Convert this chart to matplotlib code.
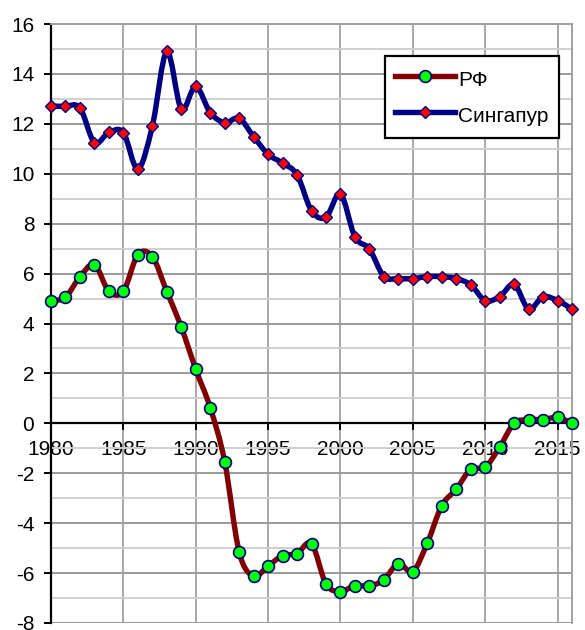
import numpy as np
import matplotlib
matplotlib.use('Agg')
import matplotlib.pyplot as plt
from matplotlib.path import Path
from matplotlib.patches import PathPatch
from matplotlib.lines import Line2D
from matplotlib.ticker import MultipleLocator

plt.rcParams['font.family'] = ['Liberation Sans', 'DejaVu Sans']
plt.rcParams['axes.unicode_minus'] = False

years = list(range(1980, 2017))
rf = [4.9, 5.06, 5.87, 6.36, 5.29, 5.29, 6.76, 6.68, 5.28, 3.86, 2.17, 0.63,
      -1.53, -5.15, -6.12, -5.72, -5.3, -5.22, -4.82, -6.43, -6.74, -6.5,
      -6.52, -6.26, -5.62, -5.94, -4.8, -3.3, -2.64, -1.84, -1.76, -0.95,
      0.0, 0.15, 0.15, 0.24, 0.0]
singapore = [12.7, 12.7, 12.64, 11.25, 11.66, 11.65, 10.19, 11.9, 14.9, 12.6,
             13.5, 12.45, 12.05, 12.22, 11.49, 10.78, 10.43, 9.96, 8.52, 8.26,
             9.19, 7.47, 6.99, 5.88, 5.8, 5.8, 5.88, 5.88, 5.8, 5.55, 4.92,
             5.07, 5.57, 4.58, 5.07, 4.92, 4.58]
series_names = ['РФ', 'Сингапур']
x_ticks = [1980, 1985, 1990, 1995, 2000, 2005, 2010, 2015]


def smooth_path(x, y):
    x = np.asarray(x, float)
    y = np.asarray(y, float)
    n = len(x)
    verts = [(x[0], y[0])]
    codes = [Path.MOVETO]
    for i in range(n - 1):
        p0 = np.array([x[max(i - 1, 0)], y[max(i - 1, 0)]])
        p1 = np.array([x[i], y[i]])
        p2 = np.array([x[i + 1], y[i + 1]])
        p3 = np.array([x[min(i + 2, n - 1)], y[min(i + 2, n - 1)]])
        c1 = p1 + (p2 - p0) / 6.0
        c2 = p2 - (p3 - p1) / 6.0
        verts += [tuple(c1), tuple(c2), tuple(p2)]
        codes += [Path.CURVE4] * 3
    return Path(verts, codes)


fig = plt.figure(figsize=(5.85, 6.3), dpi=100)
ax = fig.add_axes([51 / 585, 1 - 623 / 630, (572 - 51) / 585, (623 - 24) / 630])

ax.set_xlim(1980, 2016)
ax.set_ylim(-8, 16)

ax.yaxis.set_major_locator(MultipleLocator(2))
ax.yaxis.set_minor_locator(MultipleLocator(1))
ax.set_xticks(x_ticks)
ax.grid(which='major', axis='y', color='#9a9a9a', lw=1.4, zorder=0)
ax.grid(which='minor', axis='y', color='#cfcfcf', lw=1.4, zorder=0)
ax.grid(which='major', axis='x', color='#a8a8a8', lw=1.4, zorder=0)
ax.set_axisbelow(True)

for s in ['top', 'right']:
    ax.spines[s].set_color('#a0a0a0')
    ax.spines[s].set_linewidth(1.4)
ax.spines['left'].set_color('black')
ax.spines['left'].set_linewidth(1.6)
ax.spines['bottom'].set_position(('data', 0))
ax.spines['bottom'].set_color('black')
ax.spines['bottom'].set_linewidth(1.6)
ax.axhline(-8, color='#9a9a9a', lw=1.4, zorder=0)

ax.tick_params(axis='both', which='major', direction='out', length=5, width=1.4,
               labelsize=15, color='black')
ax.tick_params(axis='y', which='minor', length=0)
ax.tick_params(axis='y', pad=7)
ax.tick_params(axis='x', pad=7)

rf_color = '#800000'
sg_color = '#000080'

ax.add_patch(PathPatch(smooth_path(years, rf), fill=False, edgecolor=rf_color,
                       lw=3.9, capstyle='round', joinstyle='round', zorder=3))
ax.plot(years, rf, linestyle='none', marker='o', markersize=8.5,
        markerfacecolor='#00ff00', markeredgecolor=sg_color, markeredgewidth=1.2,
        zorder=4, clip_on=False)
ax.add_patch(PathPatch(smooth_path(years, singapore), fill=False, edgecolor=sg_color,
                       lw=3.9, capstyle='round', joinstyle='round', zorder=3))
ax.plot(years, singapore, linestyle='none', marker='D', markersize=6.6,
        markerfacecolor='#ff0000', markeredgecolor=sg_color, markeredgewidth=1.0,
        zorder=4, clip_on=False)

handles = [
    Line2D([], [], color=rf_color, lw=3.9, marker='o', markersize=8.5,
           markerfacecolor='#00ff00', markeredgecolor=sg_color, markeredgewidth=1.2),
    Line2D([], [], color=sg_color, lw=3.9, marker='D', markersize=6.6,
           markerfacecolor='#ff0000', markeredgecolor=sg_color, markeredgewidth=1.0),
]
leg = ax.legend(handles, series_names, loc='upper left',
                bbox_to_anchor=(385 / 585, 1 - 56 / 630),
                bbox_transform=fig.transFigure, fontsize=15,
                fancybox=False, framealpha=1, edgecolor='black',
                handlelength=2.85, handletextpad=0.15, borderpad=0.5,
                handleheight=1.5, labelspacing=0.5, borderaxespad=0)
leg.get_frame().set_linewidth(1.6)
leg.set_zorder(6)

fig.savefig('out.png', dpi=100)
